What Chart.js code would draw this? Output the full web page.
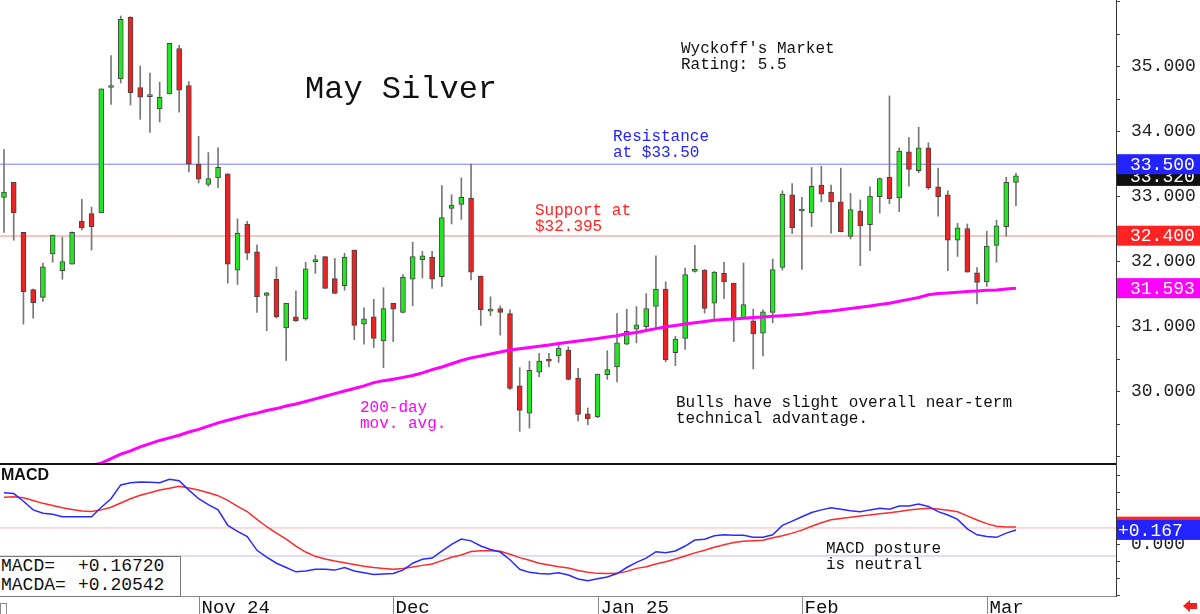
<!DOCTYPE html>
<html>
<head>
<meta charset="utf-8">
<title>May Silver</title>
<script src="https://cdn.jsdelivr.net/npm/chart.js@4.4.1/dist/chart.umd.min.js"></script>
<style>
  html, body { margin: 0; padding: 0; background: #fff; }
  #wrap { position: relative; width: 1200px; height: 614px; overflow: hidden; font-family: "Liberation Mono", monospace; color: #111; }
  canvas { position: absolute; left: 0; }
  .note { position: absolute; font-size: 16px; line-height: 16px; white-space: pre; }
  #macdBox { position: absolute; left: -1px; top: 556px; width: 180px; height: 39px; border: 1px solid #777; background: #fff; font-size: 18px; line-height: 19px; }
  #macdBox span { position: absolute; white-space: pre; }
</style>
</head>
<body>
<div id="wrap">
  <canvas id="price" width="1200" height="463" style="top:0"></canvas>
  <canvas id="macd" width="1200" height="151" style="top:463px"></canvas>

  <div class="note" style="left:305px;top:74px;font-size:32px;line-height:32px">May Silver</div>
  <div class="note" style="left:681px;top:41px">Wyckoff's Market
Rating: 5.5</div>
  <div class="note" style="left:613px;top:129px;color:#2323ff">Resistance
at $33.50</div>
  <div class="note" style="left:535px;top:203px;color:#ff2323">Support at
$32.395</div>
  <div class="note" style="left:360px;top:400px;color:#ff00ff">200-day
mov. avg.</div>
  <div class="note" style="left:676px;top:395px">Bulls have slight overall near-term
technical advantage.</div>
  <div class="note" style="left:1px;top:467px;font-family:'Liberation Sans',sans-serif;font-weight:bold">MACD</div>
  <div class="note" style="left:826px;top:541px">MACD posture
is neutral</div>
  <div id="macdBox">
    <span style="left:1px;top:0">MACD=</span><span style="left:78px;top:0">+0.16720</span>
    <span style="left:1px;top:19px">MACDA=</span><span style="left:78px;top:19px">+0.20542</span>
  </div>
</div>

<script>
// daily candles, index 0 = mid Oct 2024 ... index 104 = early Mar 2025
const opens = [
  32.99, 33.22, 32.45, 31.57, 31.45, 32.12, 31.86, 31.96, 32.62, 32.74,
  32.75, 34.68, 34.81, 35.76, 34.68, 34.54, 34.35, 34.58, 35.28, 34.71,
  33.50, 33.19, 33.29, 33.35, 31.87, 32.58, 32.15, 31.48, 31.73, 30.98,
  31.15, 31.12, 32.00, 32.08, 31.74, 31.63, 32.18, 31.04, 31.15, 30.78,
  31.36, 31.22, 31.73, 32.03, 32.07, 31.77, 32.82, 32.88, 32.98, 31.78,
  31.24, 31.28, 31.20, 30.09, 29.67, 30.30, 30.49, 30.55, 30.64, 30.21,
  29.66, 29.61, 30.26, 30.38, 30.73, 30.96, 31.00, 31.31, 31.58, 30.60,
  30.82, 31.85, 31.87, 31.36, 31.82, 31.67, 31.14, 31.09, 30.90, 31.22,
  31.91, 33.03, 32.78, 32.75, 33.18, 33.07, 32.92, 32.39, 32.78, 32.57,
  33.00, 33.30, 32.98, 33.69, 33.40, 33.75, 33.15, 33.03, 32.33, 32.51,
  31.83, 31.69, 32.25, 32.54, 33.22
];
const highs = [
  33.73, 33.22, 32.45, 31.58, 31.98, 32.41, 32.38, 32.46, 32.96, 32.84,
  34.66, 35.17, 35.78, 35.77, 35.01, 34.90, 34.76, 35.36, 35.33, 34.77,
  33.93, 33.68, 33.75, 33.35, 32.66, 32.62, 32.26, 31.53, 31.92, 31.36,
  31.55, 31.99, 32.10, 32.08, 32.05, 32.13, 32.18, 31.29, 31.42, 31.60,
  31.36, 31.80, 32.30, 32.16, 32.16, 33.17, 33.03, 33.29, 33.50, 31.78,
  31.46, 31.32, 31.26, 30.37, 30.47, 30.59, 30.59, 30.75, 30.69, 30.36,
  29.75, 30.27, 30.63, 31.20, 31.27, 31.31, 31.51, 32.09, 31.69, 30.85,
  31.90, 32.25, 31.88, 31.85, 31.99, 31.67, 31.98, 31.27, 31.26, 32.04,
  33.09, 33.20, 32.99, 33.45, 33.47, 33.18, 33.44, 33.05, 32.95, 33.15,
  33.29, 34.55, 33.75, 33.91, 34.07, 33.83, 33.44, 33.09, 32.59, 32.58,
  31.91, 32.47, 32.64, 33.30, 33.36
];
const lows = [
  32.45, 32.33, 31.04, 31.13, 31.39, 31.99, 31.73, 31.96, 32.49, 32.18,
  32.75, 34.42, 34.75, 34.41, 34.19, 33.99, 34.15, 34.58, 34.30, 33.38,
  33.21, 33.16, 33.14, 31.67, 31.65, 32.03, 31.22, 30.94, 31.13, 30.48,
  31.08, 31.10, 31.82, 31.59, 31.51, 31.56, 30.80, 30.73, 30.68, 30.37,
  30.77, 31.21, 31.32, 31.75, 31.59, 31.62, 32.58, 32.65, 31.72, 31.02,
  31.17, 30.87, 30.03, 29.39, 29.44, 30.23, 30.38, 30.45, 30.18, 29.55,
  29.49, 29.60, 30.19, 30.15, 30.72, 30.75, 30.95, 30.98, 30.46, 30.40,
  30.65, 31.84, 31.21, 31.09, 31.43, 30.77, 31.13, 30.35, 30.55, 31.06,
  31.87, 32.43, 31.88, 32.54, 32.92, 32.44, 32.46, 32.35, 31.94, 32.17,
  32.75, 32.89, 32.77, 33.16, 33.37, 33.11, 32.70, 31.86, 32.08, 31.84,
  31.35, 31.62, 31.99, 32.39, 32.86
];
const closes = [
  33.07, 32.75, 31.54, 31.37, 31.92, 32.41, 32.00, 32.45, 32.52, 32.54,
  34.66, 34.70, 35.73, 34.60, 34.53, 34.54, 34.53, 35.36, 34.64, 33.50,
  33.27, 33.28, 33.45, 31.96, 32.44, 32.13, 31.46, 31.52, 31.15, 31.36,
  31.09, 31.89, 32.01, 31.59, 31.51, 32.07, 31.02, 31.12, 30.82, 31.28,
  31.27, 31.76, 32.08, 32.09, 31.73, 32.68, 32.87, 32.99, 31.84, 31.26,
  31.27, 31.22, 30.05, 29.71, 30.33, 30.47, 30.47, 30.67, 30.19, 29.65,
  29.58, 30.27, 30.34, 30.75, 30.93, 31.03, 31.28, 31.58, 30.49, 30.81,
  31.80, 31.86, 31.28, 31.84, 31.69, 31.13, 31.34, 30.89, 31.23, 31.88,
  33.04, 32.52, 32.79, 33.16, 33.04, 32.92, 32.46, 32.80, 32.55, 33.01,
  33.28, 32.97, 33.70, 33.42, 33.75, 33.14, 33.00, 32.33, 32.52, 31.84,
  31.68, 32.24, 32.55, 33.22, 33.32
];
const ma200 = [
  null, null, null, null, null, null, null, null, null,
  28.87, 28.90, 28.97, 29.04, 29.09, 29.15, 29.20, 29.25, 29.29, 29.33,
  29.38, 29.42, 29.47, 29.52, 29.56, 29.60, 29.64, 29.67, 29.71, 29.74,
  29.78, 29.81, 29.85, 29.89, 29.93, 29.97, 30.01, 30.05, 30.09, 30.14,
  30.17, 30.19, 30.22, 30.25, 30.29, 30.34, 30.38, 30.43, 30.48, 30.52,
  30.55, 30.58, 30.61, 30.64, 30.66, 30.68, 30.70, 30.72, 30.74, 30.76,
  30.78, 30.80, 30.82, 30.84, 30.86, 30.89, 30.91, 30.94, 30.97, 31.00,
  31.02, 31.04, 31.06, 31.08, 31.10, 31.11, 31.12, 31.13, 31.14, 31.15,
  31.16, 31.17, 31.18, 31.19, 31.21, 31.23, 31.24, 31.26, 31.28, 31.30,
  31.32, 31.34, 31.36, 31.39, 31.42, 31.45, 31.49, 31.51, 31.52, 31.53,
  31.54, 31.55, 31.56, 31.565, 31.58, 31.593
];
const macdLine = [
  0.60, 0.59, 0.50, 0.40, 0.36, 0.35, 0.32, 0.32, 0.32, 0.32,
  0.43, 0.53, 0.69, 0.716, 0.724, 0.72, 0.716, 0.756, 0.74, 0.63,
  0.53, 0.46, 0.40, 0.22, 0.15, 0.09, -0.07, -0.15, -0.22, -0.27,
  -0.32, -0.31, -0.29, -0.29, -0.30, -0.27, -0.31, -0.33, -0.35, -0.345,
  -0.34, -0.30, -0.22, -0.175, -0.16, -0.08, 0.00, 0.06, 0.04, -0.02,
  -0.06, -0.09, -0.18, -0.29, -0.326, -0.34, -0.346, -0.33, -0.357, -0.404,
  -0.423, -0.40, -0.38, -0.34, -0.27, -0.21, -0.16, -0.086, -0.098, -0.078,
  -0.02, 0.05, 0.058, 0.10, 0.11, 0.106, 0.104, 0.081, 0.081, 0.111,
  0.22, 0.27, 0.32, 0.37, 0.40, 0.425, 0.407, 0.39, 0.379, 0.40,
  0.418, 0.407, 0.445, 0.445, 0.468, 0.44, 0.38, 0.34, 0.29, 0.18,
  0.11, 0.09, 0.081, 0.13, 0.167
];
const signalLine = [
  0.546, 0.553, 0.54, 0.51, 0.476, 0.45, 0.425, 0.405, 0.387, 0.38,
  0.40, 0.43, 0.48, 0.53, 0.57, 0.60, 0.63, 0.651, 0.675, 0.655,
  0.63, 0.60, 0.565, 0.51, 0.44, 0.38, 0.29, 0.204, 0.13, 0.06,
  -0.02, -0.09, -0.14, -0.17, -0.195, -0.215, -0.235, -0.255, -0.27, -0.28,
  -0.29, -0.28, -0.265, -0.245, -0.229, -0.19, -0.15, -0.125, -0.085, -0.075,
  -0.075, -0.08, -0.115, -0.155, -0.185, -0.22, -0.241, -0.26, -0.275, -0.305,
  -0.325, -0.338, -0.34, -0.338, -0.315, -0.28, -0.26, -0.23, -0.203, -0.17,
  -0.135, -0.10, -0.07, -0.035, -0.005, 0.02, 0.035, 0.042, 0.048, 0.075,
  0.10, 0.13, 0.165, 0.21, 0.25, 0.285, 0.30, 0.315, 0.33, 0.34,
  0.355, 0.367, 0.38, 0.399, 0.41, 0.418, 0.41, 0.395, 0.379, 0.33,
  0.282, 0.24, 0.21, 0.20, 0.20
];

const monthStart = [20, 40, 61, 82, 101];
const monthLabels = ["Nov 24", "Dec", "Jan 25", "Feb", "Mar"];
const priceTicks = [29, 29.5, 30, 30.5, 31, 31.5, 32, 32.5, 33, 33.5, 34, 34.5, 35, 35.5, 36];
const priceLabels = [30, 31, 32, 33, 34, 35];
const macdTicks = [-0.6, -0.4, -0.2, 0, 0.2, 0.4, 0.6, 0.8];
const resistance = 33.5;
const support = 32.395;
const macdUpper = 0.19;
const macdLower = -0.136;

// value tags on the right axis
const priceTagValues = [33.32, 33.5, 32.4, 31.593];
const priceTagTexts = ["33.320", "33.500", "32.400", "31.593"];
const priceTagColors = ["#111111", "#2323ff", "#ff2323", "#ff00ff"];
const macdTagValues = [0.205, 0.167];
const macdTagTexts = ["+0.205", "+0.167"];
const macdTagColors = ["#ff2323", "#2323ff"];

const xMin = -0.41, xMax = 114.28;
const MONO = '"Liberation Mono", monospace';

function pts(arr) { return arr.map(function (v, i) { return { x: i, y: v }; }); }
function level(v) { return [{ x: xMin, y: v }, { x: xMax, y: v }]; }

function rightAxis(min, max, tickList, label) {
  return {
    position: "right", min: min, max: max,
    afterBuildTicks: function (s) { s.ticks = tickList.map(function (v) { return { value: v }; }); },
    afterFit: function (s) { s.width = 84; s.paddingTop = 0; s.paddingBottom = 0; },
    ticks: { autoSkip: false, padding: 11, color: "#222", font: { family: MONO, size: 18 }, callback: label },
    grid: { drawOnChartArea: false, tickLength: 4, color: "#444" },
    border: { color: "#333", width: 1 }
  };
}

function tagPlugin(id, values, texts, colors, textX) {
  return {
    id: id,
    afterDraw: function (chart) {
      var ctx = chart.ctx, y = chart.scales.y, left = chart.chartArea.right + 1;
      ctx.save();
      ctx.font = "18px " + MONO;
      ctx.textBaseline = "middle";
      values.forEach(function (v, k) {
        var py = y.getPixelForValue(v);
        ctx.fillStyle = colors[k];
        ctx.fillRect(left, py - 10, 83, 20);
        ctx.fillStyle = "#fff";
        ctx.fillText(texts[k], textX, py + 1);
      });
      ctx.restore();
    }
  };
}

var candleColors = closes.map(function (c, i) { return c >= opens[i] ? "#22e622" : "#ee2222"; });

new Chart(document.getElementById("price"), {
  type: "bar",
  data: {
    datasets: [
      { type: "line", data: pts(ma200), borderColor: "#ff00ff", borderWidth: 3, pointRadius: 0, order: 0 },
      {
        data: opens.map(function (o, i) { return { x: i, y: [o, closes[i]] }; }),
        backgroundColor: candleColors, borderColor: "#444", borderWidth: 1, borderSkipped: false,
        barThickness: 5, minBarLength: 2, grouped: false, order: 1
      },
      {
        data: lows.map(function (l, i) { return { x: i, y: [l, highs[i]] }; }),
        backgroundColor: "#777777", barThickness: 1, grouped: false, order: 2
      },
      { type: "line", data: level(resistance), borderColor: "#7878ff", borderWidth: 1, pointRadius: 0, order: 3 },
      { type: "line", data: level(support), borderColor: "#f08a8a", borderWidth: 1, pointRadius: 0, order: 3 }
    ]
  },
  options: {
    responsive: false,
    animation: false,
    layout: { padding: 0 },
    plugins: { legend: { display: false }, tooltip: { enabled: false } },
    scales: {
      x: { type: "linear", min: xMin, max: xMax, offset: false, display: false },
      y: rightAxis(28.903, 36.026, priceTicks, function (v) { return priceLabels.indexOf(v) >= 0 ? v.toFixed(3) : ""; })
    }
  },
  plugins: [tagPlugin("priceTags", priceTagValues, priceTagTexts, priceTagColors, 1130)]
});

var macdFrame = {
  id: "macdFrame",
  afterDraw: function (chart) {
    var ctx = chart.ctx, a = chart.chartArea, x = chart.scales.x, h = chart.height;
    ctx.save();
    ctx.fillStyle = "#111";
    ctx.fillRect(0, 0, a.right, 2);
    ctx.strokeStyle = "#888";
    ctx.lineWidth = 1;
    ctx.beginPath();
    ctx.moveTo(0, a.bottom + 0.5);
    ctx.lineTo(a.right, a.bottom + 0.5);
    ctx.stroke();
    ctx.font = "19px " + MONO;
    ctx.fillStyle = "#111";
    ctx.textBaseline = "alphabetic";
    monthStart.forEach(function (idx, k) {
      var px = Math.round(x.getPixelForValue(idx)) + 0.5;
      ctx.beginPath();
      ctx.moveTo(px, a.bottom);
      ctx.lineTo(px, h);
      ctx.stroke();
      ctx.fillText(monthLabels[k], px + 2, h - 1);
    });
    ctx.strokeRect(0.5, a.bottom + 7.5, 6, 12);
    // red arrow at lower right
    ctx.fillStyle = "#ee2222";
    ctx.beginPath();
    ctx.moveTo(1183, h - 8);
    ctx.lineTo(1190, h - 14);
    ctx.lineTo(1190, h - 2);
    ctx.closePath();
    ctx.fill();
    ctx.fillRect(1190, h - 11, 7, 6);
    ctx.restore();
  }
};

new Chart(document.getElementById("macd"), {
  type: "line",
  data: {
    datasets: [
      { data: pts(macdLine), borderColor: "#2a2aff", borderWidth: 1.5, pointRadius: 0 },
      { data: pts(signalLine), borderColor: "#ff2a2a", borderWidth: 1.5, pointRadius: 0 },
      { data: level(macdUpper), borderColor: "#ffb4b4", borderWidth: 1, pointRadius: 0 },
      { data: level(macdLower), borderColor: "#bcbcff", borderWidth: 1, pointRadius: 0 }
    ]
  },
  options: {
    responsive: false,
    animation: false,
    layout: { padding: { bottom: 18 } },
    plugins: { legend: { display: false }, tooltip: { enabled: false } },
    scales: {
      x: { type: "linear", min: xMin, max: xMax, display: false },
      y: rightAxis(-0.601, 0.945, macdTicks, function (v) { return v === 0 ? "0.000" : ""; })
    }
  },
  plugins: [macdFrame, tagPlugin("macdTags", macdTagValues, macdTagTexts, macdTagColors, 1118)]
});
</script>
</body>
</html>
